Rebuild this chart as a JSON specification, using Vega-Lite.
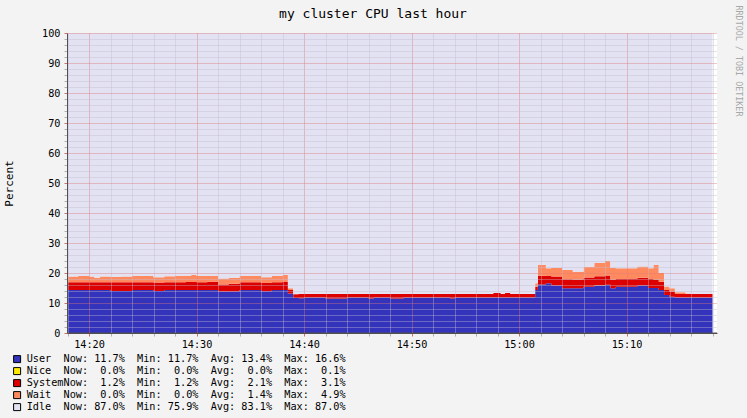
{
 "$schema": "https://vega.github.io/schema/vega-lite/v6.json",
 "width": 650,
 "height": 300,
 "autosize": {"type": "none"},
 "padding": {"left": 67, "top": 33, "right": 30, "bottom": 85},
 "background": "#f3f3f3",
 "title": {"text": "my cluster CPU last hour", "anchor": "middle", "frame": "group", "dx": -19, "dy": 36, "offset": 10, "font": "DejaVu Sans Mono", "fontSize": 13, "fontWeight": "normal", "color": "#000000", "baseline": "alphabetic"},
 "data": {"values": [
  {"t": "2024-01-01T14:18:00", "User": 14.3, "Nice": 0, "System": 2.6, "Wait": 1.9, "Idle": 81.2},
  {"t": "2024-01-01T14:19:00", "User": 14.3, "Nice": 0, "System": 2.6, "Wait": 2.1, "Idle": 81.0},
  {"t": "2024-01-01T14:20:00", "User": 14.3, "Nice": 0, "System": 2.6, "Wait": 1.9, "Idle": 81.2},
  {"t": "2024-01-01T14:20:30", "User": 14.3, "Nice": 0, "System": 2.6, "Wait": 1.5, "Idle": 81.6},
  {"t": "2024-01-01T14:21:00", "User": 14.3, "Nice": 0, "System": 2.6, "Wait": 1.9, "Idle": 81.2},
  {"t": "2024-01-01T14:22:00", "User": 14.0, "Nice": 0, "System": 2.9, "Wait": 1.8, "Idle": 81.3},
  {"t": "2024-01-01T14:23:00", "User": 14.0, "Nice": 0, "System": 2.9, "Wait": 1.9, "Idle": 81.2},
  {"t": "2024-01-01T14:24:00", "User": 14.3, "Nice": 0, "System": 2.6, "Wait": 2.1, "Idle": 81.0},
  {"t": "2024-01-01T14:25:00", "User": 14.3, "Nice": 0, "System": 2.6, "Wait": 2.1, "Idle": 81.0},
  {"t": "2024-01-01T14:26:00", "User": 14.0, "Nice": 0, "System": 2.8, "Wait": 1.8, "Idle": 81.4},
  {"t": "2024-01-01T14:27:00", "User": 14.3, "Nice": 0, "System": 2.6, "Wait": 2.0, "Idle": 81.1},
  {"t": "2024-01-01T14:28:00", "User": 14.3, "Nice": 0, "System": 2.6, "Wait": 2.1, "Idle": 81.0},
  {"t": "2024-01-01T14:29:00", "User": 14.3, "Nice": 0, "System": 2.7, "Wait": 2.0, "Idle": 81.0},
  {"t": "2024-01-01T14:29:30", "User": 14.3, "Nice": 0, "System": 2.7, "Wait": 2.3, "Idle": 80.7},
  {"t": "2024-01-01T14:30:00", "User": 14.3, "Nice": 0, "System": 2.6, "Wait": 2.1, "Idle": 81.0},
  {"t": "2024-01-01T14:31:00", "User": 14.3, "Nice": 0, "System": 2.8, "Wait": 1.9, "Idle": 81.0},
  {"t": "2024-01-01T14:32:00", "User": 13.8, "Nice": 0, "System": 2.4, "Wait": 2.0, "Idle": 81.8},
  {"t": "2024-01-01T14:33:00", "User": 13.8, "Nice": 0, "System": 2.6, "Wait": 2.0, "Idle": 81.6},
  {"t": "2024-01-01T14:34:00", "User": 14.3, "Nice": 0, "System": 2.6, "Wait": 2.1, "Idle": 81.0},
  {"t": "2024-01-01T14:35:00", "User": 14.3, "Nice": 0, "System": 2.6, "Wait": 2.1, "Idle": 81.0},
  {"t": "2024-01-01T14:36:00", "User": 13.9, "Nice": 0, "System": 2.8, "Wait": 1.9, "Idle": 81.4},
  {"t": "2024-01-01T14:37:00", "User": 14.3, "Nice": 0, "System": 2.6, "Wait": 2.1, "Idle": 81.0},
  {"t": "2024-01-01T14:38:00", "User": 14.3, "Nice": 0, "System": 2.7, "Wait": 2.3, "Idle": 80.7},
  {"t": "2024-01-01T14:38:30", "User": 13.2, "Nice": 0, "System": 1.1, "Wait": 0.6, "Idle": 85.1},
  {"t": "2024-01-01T14:39:00", "User": 11.7, "Nice": 0, "System": 1.2, "Wait": 0.1, "Idle": 87.0},
  {"t": "2024-01-01T14:39:30", "User": 11.6, "Nice": 0, "System": 1.4, "Wait": 0, "Idle": 87.0},
  {"t": "2024-01-01T14:40:00", "User": 11.8, "Nice": 0, "System": 1.2, "Wait": 0, "Idle": 87.0},
  {"t": "2024-01-01T14:41:00", "User": 11.8, "Nice": 0, "System": 1.2, "Wait": 0, "Idle": 87.0},
  {"t": "2024-01-01T14:42:00", "User": 11.5, "Nice": 0, "System": 1.5, "Wait": 0, "Idle": 87.0},
  {"t": "2024-01-01T14:43:00", "User": 11.5, "Nice": 0, "System": 1.5, "Wait": 0, "Idle": 87.0},
  {"t": "2024-01-01T14:44:00", "User": 11.8, "Nice": 0, "System": 1.2, "Wait": 0, "Idle": 87.0},
  {"t": "2024-01-01T14:45:00", "User": 11.8, "Nice": 0, "System": 1.2, "Wait": 0, "Idle": 87.0},
  {"t": "2024-01-01T14:46:00", "User": 11.5, "Nice": 0, "System": 1.5, "Wait": 0, "Idle": 87.0},
  {"t": "2024-01-01T14:46:30", "User": 11.8, "Nice": 0, "System": 1.2, "Wait": 0, "Idle": 87.0},
  {"t": "2024-01-01T14:47:00", "User": 11.8, "Nice": 0, "System": 1.2, "Wait": 0, "Idle": 87.0},
  {"t": "2024-01-01T14:48:00", "User": 11.5, "Nice": 0, "System": 1.5, "Wait": 0, "Idle": 87.0},
  {"t": "2024-01-01T14:49:00", "User": 11.5, "Nice": 0, "System": 1.5, "Wait": 0, "Idle": 87.0},
  {"t": "2024-01-01T14:49:15", "User": 11.8, "Nice": 0, "System": 1.2, "Wait": 0, "Idle": 87.0},
  {"t": "2024-01-01T14:50:00", "User": 11.8, "Nice": 0, "System": 1.2, "Wait": 0, "Idle": 87.0},
  {"t": "2024-01-01T14:51:00", "User": 11.8, "Nice": 0, "System": 1.2, "Wait": 0, "Idle": 87.0},
  {"t": "2024-01-01T14:52:00", "User": 11.8, "Nice": 0, "System": 1.2, "Wait": 0, "Idle": 87.0},
  {"t": "2024-01-01T14:53:00", "User": 11.8, "Nice": 0, "System": 1.2, "Wait": 0, "Idle": 87.0},
  {"t": "2024-01-01T14:53:36", "User": 11.5, "Nice": 0, "System": 1.5, "Wait": 0, "Idle": 87.0},
  {"t": "2024-01-01T14:54:00", "User": 11.8, "Nice": 0, "System": 1.2, "Wait": 0, "Idle": 87.0},
  {"t": "2024-01-01T14:55:00", "User": 11.8, "Nice": 0, "System": 1.2, "Wait": 0, "Idle": 87.0},
  {"t": "2024-01-01T14:56:00", "User": 11.8, "Nice": 0, "System": 1.2, "Wait": 0, "Idle": 87.0},
  {"t": "2024-01-01T14:57:00", "User": 11.8, "Nice": 0, "System": 1.2, "Wait": 0, "Idle": 87.0},
  {"t": "2024-01-01T14:57:36", "User": 11.8, "Nice": 0, "System": 1.5, "Wait": 0, "Idle": 86.7},
  {"t": "2024-01-01T14:58:18", "User": 11.8, "Nice": 0, "System": 1.2, "Wait": 0, "Idle": 87.0},
  {"t": "2024-01-01T14:58:42", "User": 11.8, "Nice": 0, "System": 1.5, "Wait": 0, "Idle": 86.7},
  {"t": "2024-01-01T14:59:12", "User": 11.8, "Nice": 0, "System": 1.2, "Wait": 0, "Idle": 87.0},
  {"t": "2024-01-01T15:00:00", "User": 11.8, "Nice": 0, "System": 1.2, "Wait": 0, "Idle": 87.0},
  {"t": "2024-01-01T15:01:00", "User": 11.8, "Nice": 0, "System": 1.2, "Wait": 0, "Idle": 87.0},
  {"t": "2024-01-01T15:01:30", "User": 14.3, "Nice": 0, "System": 1.1, "Wait": 1.2, "Idle": 83.4},
  {"t": "2024-01-01T15:01:45", "User": 16.2, "Nice": 0, "System": 2.9, "Wait": 3.6, "Idle": 77.3},
  {"t": "2024-01-01T15:02:30", "User": 16.6, "Nice": 0, "System": 2.4, "Wait": 2.6, "Idle": 78.4},
  {"t": "2024-01-01T15:03:00", "User": 15.8, "Nice": 0, "System": 3.0, "Wait": 2.9, "Idle": 78.3},
  {"t": "2024-01-01T15:04:00", "User": 14.9, "Nice": 0, "System": 3.0, "Wait": 3.1, "Idle": 79.0},
  {"t": "2024-01-01T15:05:00", "User": 14.9, "Nice": 0, "System": 2.9, "Wait": 2.6, "Idle": 79.6},
  {"t": "2024-01-01T15:06:00", "User": 15.4, "Nice": 0, "System": 3.1, "Wait": 3.6, "Idle": 77.9},
  {"t": "2024-01-01T15:07:00", "User": 15.8, "Nice": 0.1, "System": 3.0, "Wait": 4.4, "Idle": 76.7},
  {"t": "2024-01-01T15:08:00", "User": 16.1, "Nice": 0, "System": 3.1, "Wait": 4.9, "Idle": 75.9},
  {"t": "2024-01-01T15:08:30", "User": 14.9, "Nice": 0, "System": 2.9, "Wait": 3.9, "Idle": 78.3},
  {"t": "2024-01-01T15:09:00", "User": 15.4, "Nice": 0, "System": 2.6, "Wait": 3.6, "Idle": 78.4},
  {"t": "2024-01-01T15:10:00", "User": 15.4, "Nice": 0, "System": 2.6, "Wait": 3.6, "Idle": 78.4},
  {"t": "2024-01-01T15:11:00", "User": 15.8, "Nice": 0, "System": 2.6, "Wait": 3.8, "Idle": 77.8},
  {"t": "2024-01-01T15:12:00", "User": 15.0, "Nice": 0, "System": 3.0, "Wait": 3.6, "Idle": 78.4},
  {"t": "2024-01-01T15:12:30", "User": 15.0, "Nice": 0, "System": 2.8, "Wait": 4.9, "Idle": 77.3},
  {"t": "2024-01-01T15:13:00", "User": 14.3, "Nice": 0, "System": 2.8, "Wait": 2.9, "Idle": 80.0},
  {"t": "2024-01-01T15:13:30", "User": 12.7, "Nice": 0, "System": 1.6, "Wait": 1.2, "Idle": 84.5},
  {"t": "2024-01-01T15:14:00", "User": 12.1, "Nice": 0, "System": 1.7, "Wait": 1.1, "Idle": 85.1},
  {"t": "2024-01-01T15:14:30", "User": 11.8, "Nice": 0, "System": 1.2, "Wait": 0.6, "Idle": 86.4},
  {"t": "2024-01-01T15:15:00", "User": 11.8, "Nice": 0, "System": 1.2, "Wait": 0.6, "Idle": 86.4},
  {"t": "2024-01-01T15:15:30", "User": 11.8, "Nice": 0, "System": 1.2, "Wait": 0.2, "Idle": 86.8},
  {"t": "2024-01-01T15:16:00", "User": 11.8, "Nice": 0, "System": 1.2, "Wait": 0, "Idle": 87.0},
  {"t": "2024-01-01T15:17:00", "User": 11.8, "Nice": 0, "System": 1.2, "Wait": 0, "Idle": 87.0},
  {"t": "2024-01-01T15:18:00", "User": 11.7, "Nice": 0, "System": 1.2, "Wait": 0, "Idle": 87.1}
 ]},
 "layer": [
  {
   "transform": [
    {"fold": ["User", "Nice", "System", "Wait", "Idle"], "as": ["series", "value"]},
    {"lookup": "series", "from": {"data": {"values": [
      {"series": "User", "rank": 1}, {"series": "Nice", "rank": 2}, {"series": "System", "rank": 3}, {"series": "Wait", "rank": 4}, {"series": "Idle", "rank": 5}]},
      "key": "series", "fields": ["rank"]}}
   ],
   "mark": {"type": "area", "interpolate": "step-after"},
   "encoding": {
    "x": {"field": "t", "type": "temporal",
     "scale": {"domain": [{"year": 2024, "month": 1, "date": 1, "hours": 14, "minutes": 17, "seconds": 57}, {"year": 2024, "month": 1, "date": 1, "hours": 15, "minutes": 18, "seconds": 25}]},
     "axis": {"title": null, "format": "%H:%M",
      "values": [
       {"year": 2024, "month": 1, "date": 1, "hours": 14, "minutes": 18}, {"year": 2024, "month": 1, "date": 1, "hours": 14, "minutes": 20},
       {"year": 2024, "month": 1, "date": 1, "hours": 14, "minutes": 22}, {"year": 2024, "month": 1, "date": 1, "hours": 14, "minutes": 24},
       {"year": 2024, "month": 1, "date": 1, "hours": 14, "minutes": 26}, {"year": 2024, "month": 1, "date": 1, "hours": 14, "minutes": 28},
       {"year": 2024, "month": 1, "date": 1, "hours": 14, "minutes": 30}, {"year": 2024, "month": 1, "date": 1, "hours": 14, "minutes": 32},
       {"year": 2024, "month": 1, "date": 1, "hours": 14, "minutes": 34}, {"year": 2024, "month": 1, "date": 1, "hours": 14, "minutes": 36},
       {"year": 2024, "month": 1, "date": 1, "hours": 14, "minutes": 38}, {"year": 2024, "month": 1, "date": 1, "hours": 14, "minutes": 40},
       {"year": 2024, "month": 1, "date": 1, "hours": 14, "minutes": 42}, {"year": 2024, "month": 1, "date": 1, "hours": 14, "minutes": 44},
       {"year": 2024, "month": 1, "date": 1, "hours": 14, "minutes": 46}, {"year": 2024, "month": 1, "date": 1, "hours": 14, "minutes": 48},
       {"year": 2024, "month": 1, "date": 1, "hours": 14, "minutes": 50}, {"year": 2024, "month": 1, "date": 1, "hours": 14, "minutes": 52},
       {"year": 2024, "month": 1, "date": 1, "hours": 14, "minutes": 54}, {"year": 2024, "month": 1, "date": 1, "hours": 14, "minutes": 56},
       {"year": 2024, "month": 1, "date": 1, "hours": 14, "minutes": 58}, {"year": 2024, "month": 1, "date": 1, "hours": 15, "minutes": 0},
       {"year": 2024, "month": 1, "date": 1, "hours": 15, "minutes": 2}, {"year": 2024, "month": 1, "date": 1, "hours": 15, "minutes": 4},
       {"year": 2024, "month": 1, "date": 1, "hours": 15, "minutes": 6}, {"year": 2024, "month": 1, "date": 1, "hours": 15, "minutes": 8},
       {"year": 2024, "month": 1, "date": 1, "hours": 15, "minutes": 10}, {"year": 2024, "month": 1, "date": 1, "hours": 15, "minutes": 12},
       {"year": 2024, "month": 1, "date": 1, "hours": 15, "minutes": 14}, {"year": 2024, "month": 1, "date": 1, "hours": 15, "minutes": 16},
       {"year": 2024, "month": 1, "date": 1, "hours": 15, "minutes": 18}],
      "labelExpr": "round(datum.value / 60000) % 10 == 0 ? datum.label : ''",
      "labelOverlap": false, "labelFlush": false, "labelFont": "DejaVu Sans Mono", "labelFontSize": 10.2, "labelColor": "#000000", "labelPadding": 3,
      "tickSize": 3, "tickColor": {"condition": {"test": "round(datum.value / 60000) % 10 == 0", "value": "#d07070"}, "value": "#b0b0b8"},
      "grid": true, "gridDash": [1, 1], "gridOpacity": 0.8,
      "gridColor": {"condition": {"test": "round(datum.value / 60000) % 10 == 0", "value": "#e07878"}, "value": "#c4bcd0"},
      "domainColor": "#505050", "zindex": 1}},
    "y": {"field": "value", "type": "quantitative", "stack": "zero",
     "scale": {"domain": [0, 100], "nice": false},
     "axis": {"orient": "left", "values": [0,2,4,6,8,10,12,14,16,18,20,22,24,26,28,30,32,34,36,38,40,42,44,46,48,50,52,54,56,58,60,62,64,66,68,70,72,74,76,78,80,82,84,86,88,90,92,94,96,98,100],
      "labelExpr": "datum.value % 10 == 0 ? datum.label : ''",
      "labelOverlap": false, "labelFont": "DejaVu Sans Mono", "labelFontSize": 10.2, "labelColor": "#000000", "labelPadding": 4,
      "title": "Percent", "titleFont": "DejaVu Sans Mono", "titleFontSize": 11, "titleFontWeight": "normal", "titleColor": "#000000", "titlePadding": 27,
      "tickSize": 3, "tickColor": {"condition": {"test": "datum.value % 10 == 0", "value": "#d07070"}, "value": "#b0b0b8"},
      "grid": true, "gridDash": [1, 1], "gridOpacity": 0.8,
      "gridColor": {"condition": {"test": "datum.value % 10 == 0", "value": "#e07878"}, "value": "#c4bcd0"},
      "domainColor": "#505050", "zindex": 1}},
    "order": {"field": "rank", "type": "quantitative", "sort": "ascending"},
    "color": {"field": "series", "type": "nominal", "sort": ["User", "Nice", "System", "Wait", "Idle"],
     "scale": {"domain": ["User", "Nice", "System", "Wait", "Idle"], "range": ["#3333bb", "#ffea00", "#dd0000", "#ff8a60", "#e2e2f2"]},
     "legend": {"orient": "none", "legendX": -55, "legendY": 321, "title": null, "direction": "vertical",
      "values": ["User", "Nice", "System", "Wait", "Idle"],
      "symbolType": "square", "symbolSize": 49, "symbolStrokeColor": "#000000", "symbolStrokeWidth": 1, "symbolOpacity": 1,
      "labelFont": "DejaVu Sans Mono", "labelFontSize": 10.2, "labelColor": "#000000", "labelLimit": 500, "labelOffset": 4.5,
      "rowPadding": 0, "padding": 0,
      "labelExpr": "datum.label == 'User' ? 'User\u00a0\u00a0Now:\u00a011.7%\u00a0\u00a0Min:\u00a011.7%\u00a0\u00a0Avg:\u00a013.4%\u00a0\u00a0Max:\u00a016.6%' : datum.label == 'Nice' ? 'Nice\u00a0\u00a0Now:\u00a0\u00a00.0%\u00a0\u00a0Min:\u00a0\u00a00.0%\u00a0\u00a0Avg:\u00a0\u00a00.0%\u00a0\u00a0Max:\u00a0\u00a00.1%' : datum.label == 'System' ? 'SystemNow:\u00a0\u00a01.2%\u00a0\u00a0Min:\u00a0\u00a01.2%\u00a0\u00a0Avg:\u00a0\u00a02.1%\u00a0\u00a0Max:\u00a0\u00a03.1%' : datum.label == 'Wait' ? 'Wait\u00a0\u00a0Now:\u00a0\u00a00.0%\u00a0\u00a0Min:\u00a0\u00a00.0%\u00a0\u00a0Avg:\u00a0\u00a01.4%\u00a0\u00a0Max:\u00a0\u00a04.9%' : 'Idle\u00a0\u00a0Now:\u00a087.0%\u00a0\u00a0Min:\u00a075.9%\u00a0\u00a0Avg:\u00a083.1%\u00a0\u00a0Max:\u00a087.0%'"}}
   }
  },
  {
   "data": {"values": [{}]},
   "mark": {"type": "rule", "color": "#505050"},
   "encoding": {
    "y": {"datum": 0, "type": "quantitative",
     "axis": {"orient": "right", "title": "RRDTOOL / TOBI OETIKER", "labels": false, "ticks": false, "domain": false, "grid": false,
      "titleAngle": 90, "titleX": 21, "titleY": -28, "titleAlign": "left", "titleBaseline": "middle",
      "titleFont": "DejaVu Sans Mono", "titleFontSize": 8.4, "titleFontWeight": "normal", "titleColor": "#a8a8a8"}}
   }
  }
 ],
 "resolve": {"axis": {"y": "independent"}},
 "config": {"view": {"stroke": null, "fill": "#ffffff"}}
}
